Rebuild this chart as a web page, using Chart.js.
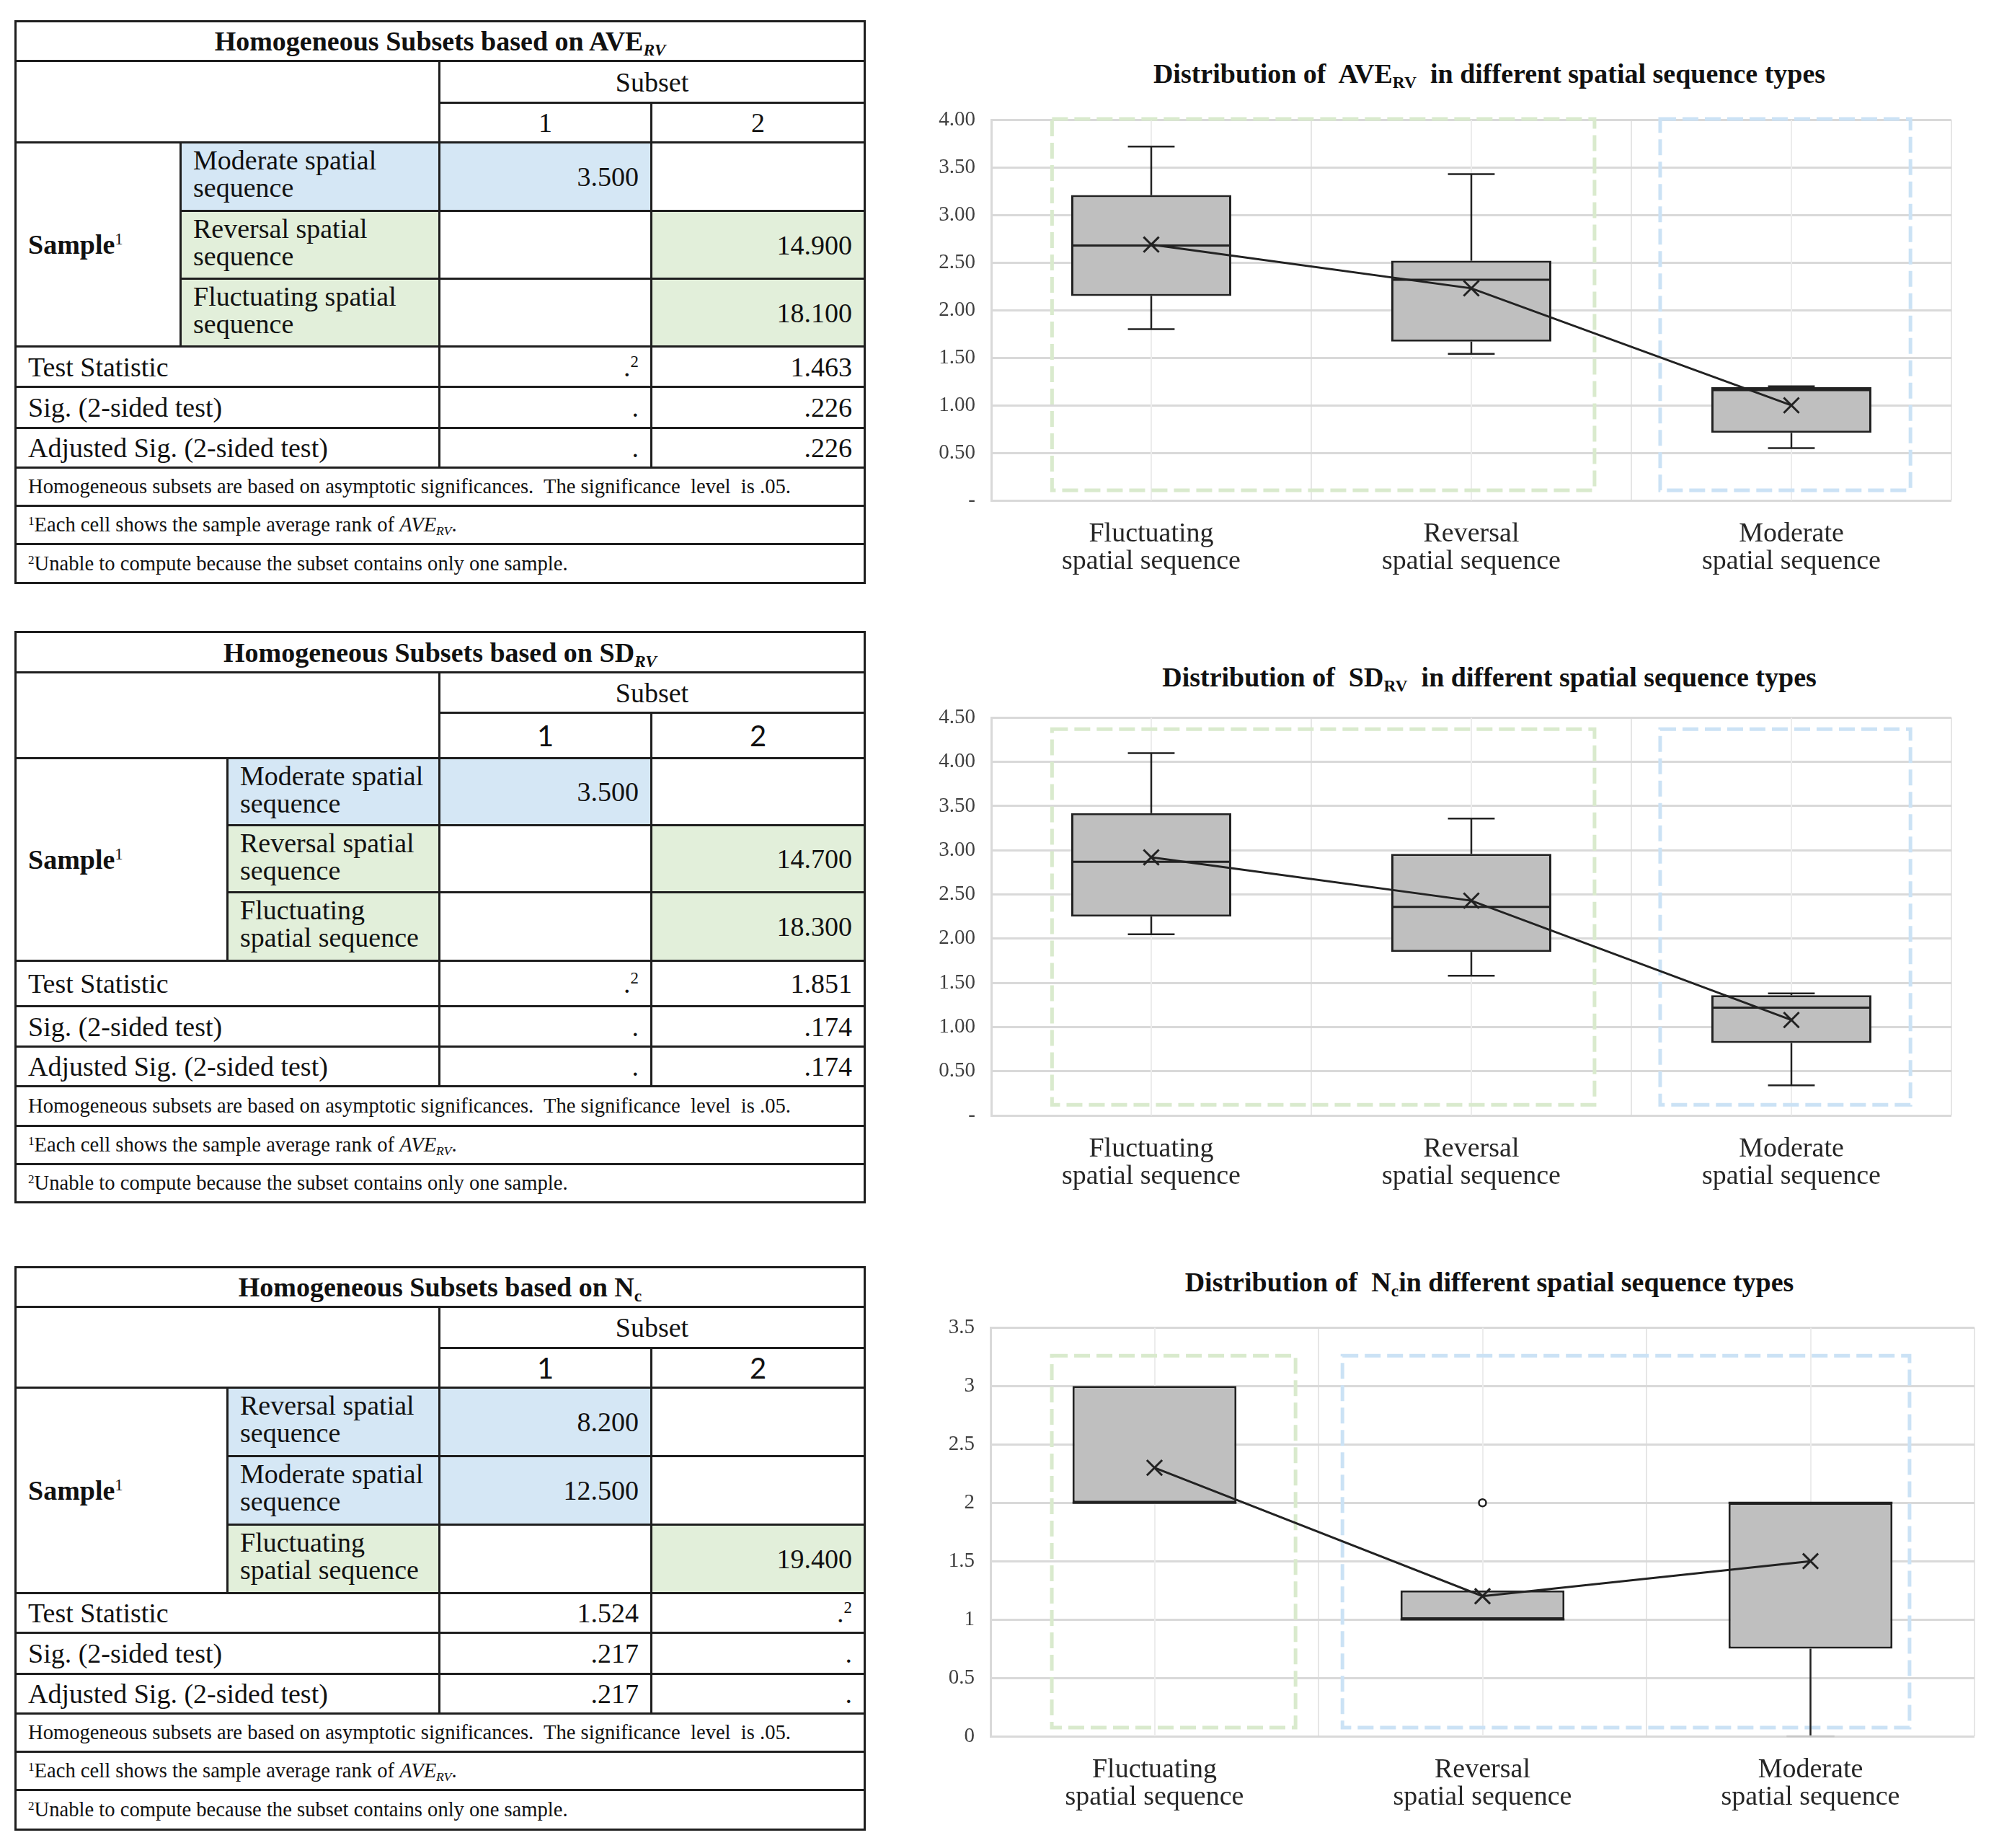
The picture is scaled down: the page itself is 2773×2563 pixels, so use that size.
<!DOCTYPE html>
<html><head><meta charset="utf-8">
<script src="https://cdn.jsdelivr.net/npm/chart.js@4.4.1/dist/chart.umd.min.js"></script>
<style>
html,body{margin:0;padding:0;background:#fff;}
body{width:2773px;height:2563px;position:relative;overflow:hidden;font-family:"Liberation Serif","Times New Roman",serif;color:#111;}
table.hs{position:absolute;left:20px;width:1178px;border-collapse:collapse;table-layout:fixed;font-size:38px;}
table.hs td{border:3px solid #1e1e1e;padding:0 16px;line-height:38px;vertical-align:middle;white-space:nowrap;overflow:hidden;}
table.hs td.title{text-align:center;font-weight:bold;}
table.hs td.c{text-align:center;}
table.hs td.sans{font-family:Lato,"Open Sans",sans-serif;font-size:40px;}
table.hs td.num{text-align:right;}
table.hs td.lab{vertical-align:top;padding-top:4px;}
table.hs td.blue{background:#d5e7f5;}
table.hs td.green{background:#e2efda;}
table.hs td.note{font-size:28.6px;}
sub{font-size:0.62em;vertical-align:-0.28em;line-height:0;}
sup{font-size:0.6em;vertical-align:0.55em;line-height:0;}
.ctitle{position:absolute;left:1366px;width:1400px;text-align:center;font-weight:bold;font-size:38px;line-height:38px;white-space:nowrap;color:#111;}
canvas{position:absolute;}
</style>
</head>
<body>

<table class="hs" style="top:28px">
<colgroup><col style="width:229px"><col style="width:359px"><col style="width:294px"><col style="width:296px"></colgroup>
<tr style="height:55px"><td colspan="4" class="title">Homogeneous Subsets based on AVE<sub><i>RV</i></sub></td></tr>
<tr style="height:58px"><td colspan="2" rowspan="2"></td><td colspan="2" class="c">Subset</td></tr>
<tr style="height:55px"><td class="c">1</td><td class="c">2</td></tr>
<tr style="height:95px"><td rowspan="3"><b>Sample</b><sup>1</sup></td><td class="lab blue">Moderate spatial<br>sequence</td><td class="num blue">3.500</td><td></td></tr>
<tr style="height:94px"><td class="lab green">Reversal spatial<br>sequence</td><td></td><td class="num green">14.900</td></tr>
<tr style="height:94px"><td class="lab green">Fluctuating spatial<br>sequence</td><td></td><td class="num green">18.100</td></tr>
<tr style="height:56px"><td colspan="2">Test Statistic</td><td class="num">.<sup>2</sup></td><td class="num">1.463</td></tr>
<tr style="height:57px"><td colspan="2">Sig. (2-sided test)</td><td class="num">.</td><td class="num">.226</td></tr>
<tr style="height:55px"><td colspan="2">Adjusted Sig. (2-sided test)</td><td class="num">.</td><td class="num">.226</td></tr>
<tr style="height:53px"><td colspan="4" class="note">Homogeneous subsets are based on asymptotic significances.&nbsp; The significance&nbsp; level&nbsp; is .05.</td></tr>
<tr style="height:53px"><td colspan="4" class="note"><sup>1</sup>Each cell shows the sample average rank of <i>AVE<sub>RV</sub></i>.</td></tr>
<tr style="height:54px"><td colspan="4" class="note"><sup>2</sup>Unable to compute because the subset contains only one sample.</td></tr>
</table>

<table class="hs" style="top:875px">
<colgroup><col style="width:294px"><col style="width:294px"><col style="width:294px"><col style="width:296px"></colgroup>
<tr style="height:56px"><td colspan="4" class="title">Homogeneous Subsets based on SD<sub><i>RV</i></sub></td></tr>
<tr style="height:56px"><td colspan="2" rowspan="2"></td><td colspan="2" class="c">Subset</td></tr>
<tr style="height:63px"><td class="c sans">1</td><td class="c sans">2</td></tr>
<tr style="height:93px"><td rowspan="3"><b>Sample</b><sup>1</sup></td><td class="lab blue">Moderate spatial<br>sequence</td><td class="num blue">3.500</td><td></td></tr>
<tr style="height:93px"><td class="lab green">Reversal spatial<br>sequence</td><td></td><td class="num green">14.700</td></tr>
<tr style="height:95px"><td class="lab green">Fluctuating<br>spatial sequence</td><td></td><td class="num green">18.300</td></tr>
<tr style="height:63px"><td colspan="2">Test Statistic</td><td class="num">.<sup>2</sup></td><td class="num">1.851</td></tr>
<tr style="height:56px"><td colspan="2">Sig. (2-sided test)</td><td class="num">.</td><td class="num">.174</td></tr>
<tr style="height:55px"><td colspan="2">Adjusted Sig. (2-sided test)</td><td class="num">.</td><td class="num">.174</td></tr>
<tr style="height:55px"><td colspan="4" class="note">Homogeneous subsets are based on asymptotic significances.&nbsp; The significance&nbsp; level&nbsp; is .05.</td></tr>
<tr style="height:53px"><td colspan="4" class="note"><sup>1</sup>Each cell shows the sample average rank of <i>AVE<sub>RV</sub></i>.</td></tr>
<tr style="height:53px"><td colspan="4" class="note"><sup>2</sup>Unable to compute because the subset contains only one sample.</td></tr>
</table>

<table class="hs" style="top:1756px">
<colgroup><col style="width:294px"><col style="width:294px"><col style="width:294px"><col style="width:296px"></colgroup>
<tr style="height:55px"><td colspan="4" class="title">Homogeneous Subsets based on N<sub>c</sub></td></tr>
<tr style="height:57px"><td colspan="2" rowspan="2"></td><td colspan="2" class="c">Subset</td></tr>
<tr style="height:55px"><td class="c sans">1</td><td class="c sans">2</td></tr>
<tr style="height:95px"><td rowspan="3"><b>Sample</b><sup>1</sup></td><td class="lab blue">Reversal spatial<br>sequence</td><td class="num blue">8.200</td><td></td></tr>
<tr style="height:95px"><td class="lab blue">Moderate spatial<br>sequence</td><td class="num blue">12.500</td><td></td></tr>
<tr style="height:95px"><td class="lab green">Fluctuating<br>spatial sequence</td><td></td><td class="num green">19.400</td></tr>
<tr style="height:55px"><td colspan="2">Test Statistic</td><td class="num">1.524</td><td class="num">.<sup>2</sup></td></tr>
<tr style="height:57px"><td colspan="2">Sig. (2-sided test)</td><td class="num">.217</td><td class="num">.</td></tr>
<tr style="height:55px"><td colspan="2">Adjusted Sig. (2-sided test)</td><td class="num">.217</td><td class="num">.</td></tr>
<tr style="height:53px"><td colspan="4" class="note">Homogeneous subsets are based on asymptotic significances.&nbsp; The significance&nbsp; level&nbsp; is .05.</td></tr>
<tr style="height:53px"><td colspan="4" class="note"><sup>1</sup>Each cell shows the sample average rank of <i>AVE<sub>RV</sub></i>.</td></tr>
<tr style="height:55px"><td colspan="4" class="note"><sup>2</sup>Unable to compute because the subset contains only one sample.</td></tr>
</table>

<div class="ctitle" style="top:83px">Distribution of&nbsp; AVE<sub>RV</sub>&nbsp; in different spatial sequence types</div>
<div class="ctitle" style="top:920px">Distribution of&nbsp; SD<sub>RV</sub>&nbsp; in different spatial sequence types</div>
<div class="ctitle" style="top:1759px">Distribution of&nbsp; N<sub>c</sub>in different spatial sequence types</div>

<canvas id="c1" width="1520" height="713" style="left:1235px;top:127px;width:1520px;height:713px"></canvas>
<canvas id="c2" width="1520" height="737" style="left:1235px;top:956px;width:1520px;height:737px"></canvas>
<canvas id="c3" width="1530" height="752" style="left:1235px;top:1802px;width:1530px;height:752px"></canvas>

<script>
// ---------- DATA ----------
const categories = [["Fluctuating", "spatial sequence"], ["Reversal", "spatial sequence"], ["Moderate", "spatial sequence"]];

// AVE_RV box plot statistics (Fluctuating, Reversal, Moderate)
const aveMin    = [1.80, 1.54, 0.55];
const aveQ1     = [2.15, 1.67, 0.71];
const aveMedian = [2.68, 2.32, 1.16];
const aveQ3     = [3.21, 2.52, 1.19];
const aveMax    = [3.72, 3.43, 1.20];
const aveMean   = [2.69, 2.23, 1.00];

// SD_RV box plot statistics
const sdMin    = [2.05, 1.58, 0.34];
const sdQ1     = [2.25, 1.85, 0.82];
const sdMedian = [2.87, 2.36, 1.22];
const sdQ3     = [3.42, 2.96, 1.36];
const sdMax    = [4.10, 3.36, 1.38];
const sdMean   = [2.92, 2.43, 1.08];

// N_c box plot statistics
const ncMin      = [2, 1, 0];
const ncQ1       = [2, 1, 0.75];
const ncMedian   = [2, 1, 2];
const ncQ3       = [3, 1.25, 2];
const ncMax      = [3, 1.25, 2];
const ncMean     = [2.3, 1.2, 1.5];
const ncOutliers = [null, 2, null];

// y-axis tick ranges
const aveTicks = [0, 4, 0.5];
const sdTicks  = [0, 4.5, 0.5];
const ncTicks  = [0, 3.5, 0.5];

// homogeneous-subset groupings (category index ranges, value ranges)
const aveGroups = [[-0.31, 1.385, 0.106, 4.01, 'green'], [1.59, 2.372, 0.106, 4.01, 'blue']];
const sdGroups  = [[-0.31, 1.385, 0.12, 4.37, 'green'], [1.59, 2.372, 0.12, 4.37, 'blue']];
const ncGroups  = [[-0.313, 0.43, 0.074, 3.26, 'green'], [0.573, 2.302, 0.074, 3.26, 'blue']];

// ---------- STYLE ----------
const FONT = '"Liberation Serif","Times New Roman",serif';
const frameColors = {green: '#d9eacd', blue: '#cbe2f5'};
const inkColor = '#222222';

const boxPlugin = {
  id: 'boxStats',
  beforeDatasetsDraw(chart) {
    const cfg = chart.options.plugins.boxStats;
    const {ctx, chartArea: a, scales: {x, y}} = chart;
    ctx.save();
    ctx.strokeStyle = '#ececec';
    ctx.lineWidth = 2;
    chart.data.labels.forEach((l, i) => {
      const px = Math.round(x.getPixelForValue(i));
      ctx.beginPath(); ctx.moveTo(px, a.top); ctx.lineTo(px, a.bottom); ctx.stroke();
    });
    ctx.lineWidth = 5;
    ctx.setLineDash([22, 9]);
    cfg.groups.forEach(g => {
      const x0 = x.getPixelForValue(g[0]), x1 = x.getPixelForValue(g[1]);
      const y0 = y.getPixelForValue(g[2]), y1 = y.getPixelForValue(g[3]);
      ctx.strokeStyle = frameColors[g[4]];
      ctx.strokeRect(x0, y1, x1 - x0, y0 - y1);
    });
    ctx.restore();
  },
  afterDatasetDraw(chart, args) {
    if (args.index !== 0) return;
    const cfg = chart.options.plugins.boxStats;
    const {ctx, scales: {x, y}} = chart;
    const meta = chart.getDatasetMeta(0);
    const catW = x.getPixelForValue(1) - x.getPixelForValue(0);
    const capHalf = catW * 0.073;
    ctx.save();
    ctx.strokeStyle = inkColor;
    ctx.lineCap = 'butt';
    meta.data.forEach((bar, i) => {
      const cx = bar.x, half = bar.width / 2;
      const yMin = y.getPixelForValue(cfg.min[i]), yMax = y.getPixelForValue(cfg.max[i]);
      const yQ1 = y.getPixelForValue(cfg.q1[i]), yQ3 = y.getPixelForValue(cfg.q3[i]);
      const yMed = y.getPixelForValue(cfg.median[i]);
      ctx.lineWidth = 2.5;
      if (cfg.max[i] > cfg.q3[i]) {
        ctx.beginPath(); ctx.moveTo(cx, yQ3); ctx.lineTo(cx, yMax); ctx.stroke();
        ctx.beginPath(); ctx.moveTo(cx - capHalf, yMax); ctx.lineTo(cx + capHalf, yMax); ctx.stroke();
      }
      if (cfg.min[i] < cfg.q1[i]) {
        ctx.beginPath(); ctx.moveTo(cx, yQ1); ctx.lineTo(cx, yMin); ctx.stroke();
        ctx.strokeStyle = cfg.min[i] === y.min ? '#c8c8c8' : inkColor;
        ctx.beginPath(); ctx.moveTo(cx - capHalf, yMin); ctx.lineTo(cx + capHalf, yMin); ctx.stroke();
        ctx.strokeStyle = inkColor;
      }
      ctx.lineWidth = 3;
      ctx.beginPath(); ctx.moveTo(cx - half, yMed); ctx.lineTo(cx + half, yMed); ctx.stroke();
    });
    ctx.restore();
  }
};

function makeChart(id, stats, mean, outliers, ticks, groups, fmt, yWidth, rightPad) {
  const datasets = [
    {
      type: 'bar',
      data: stats.q1.map((v, i) => [v, stats.q3[i]]),
      backgroundColor: '#bfbfbf',
      borderColor: inkColor,
      borderWidth: 3,
      borderSkipped: false,
      barPercentage: 0.5,
      categoryPercentage: 1,
      order: 2
    },
    {
      type: 'line',
      data: mean,
      borderColor: inkColor,
      borderWidth: 3,
      tension: 0,
      fill: false,
      pointStyle: 'crossRot',
      pointRadius: 15,
      pointBorderWidth: 3,
      pointBorderColor: inkColor,
      pointBackgroundColor: 'rgba(0,0,0,0)',
      order: 0
    }
  ];
  if (outliers) {
    datasets.push({
      type: 'line',
      data: outliers,
      showLine: false,
      pointStyle: 'circle',
      pointRadius: 5,
      pointBorderWidth: 2.5,
      pointBorderColor: inkColor,
      pointBackgroundColor: '#ffffff',
      order: 1
    });
  }
  return new Chart(document.getElementById(id), {
    type: 'bar',
    data: {labels: categories, datasets},
    plugins: [boxPlugin],
    options: {
      responsive: false,
      animation: false,
      devicePixelRatio: 1,
      layout: {padding: {top: 0, right: rightPad, left: 0, bottom: 0}},
      plugins: {
        legend: {display: false},
        tooltip: {enabled: false},
        title: {display: false},
        boxStats: Object.assign({groups}, stats)
      },
      scales: {
        x: {
          offset: true,
          grid: {color: '#e6e6e6', lineWidth: 2, drawTicks: false, offset: true},
          border: {display: false},
          ticks: {font: {family: FONT, size: 38, lineHeight: 1.0}, color: '#262626', padding: 28, maxRotation: 0, autoSkip: false},
          afterFit: s => { s.height = 146; }
        },
        y: {
          min: ticks[0], max: ticks[1],
          grid: {color: '#d9d9d9', lineWidth: 3, drawTicks: false},
          border: {display: true, color: '#d9d9d9', width: 3},
          ticks: {stepSize: ticks[2], font: {family: FONT, size: 29}, color: '#404040', padding: 22, callback: fmt},
          afterFit: s => { s.width = yWidth; }
        }
      }
    }
  });
}

const fmt2 = v => (v === 0 ? '-' : v.toFixed(2));
const fmtPlain = v => String(v);

makeChart('c1', {min: aveMin, q1: aveQ1, median: aveMedian, q3: aveQ3, max: aveMax}, aveMean, null, aveTicks, aveGroups, fmt2, 140, 48);
makeChart('c2', {min: sdMin, q1: sdQ1, median: sdMedian, q3: sdQ3, max: sdMax}, sdMean, null, sdTicks, sdGroups, fmt2, 140, 48);
makeChart('c3', {min: ncMin, q1: ncQ1, median: ncMedian, q3: ncQ3, max: ncMax}, ncMean, ncOutliers, ncTicks, ncGroups, fmtPlain, 139, 26);
</script>
</body></html>
